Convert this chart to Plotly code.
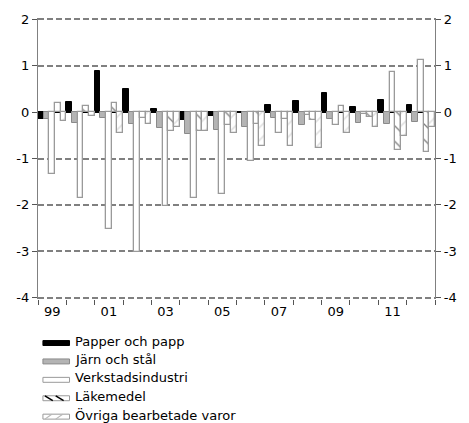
import plotly.graph_objects as go

# Årsdata 1999-2012
years = list(range(1999, 2013))
label_years = [1999, 2001, 2003, 2005, 2007, 2009, 2011]
year_labels = ["99", "01", "03", "05", "07", "09", "11"]
y_ticks = [-4, -3, -2, -1, 0, 1, 2]

papper = [-0.15, 0.22, 0.89, 0.50, 0.06, -0.17, -0.09, 0.0, 0.15, 0.25, 0.41, 0.10, 0.27, 0.16]
jarn = [-0.15, -0.23, -0.13, -0.26, -0.35, -0.47, -0.38, -0.31, -0.13, -0.28, -0.14, -0.24, -0.26, -0.21]
verkstad = [-1.33, -1.86, -2.53, -3.02, -2.03, -1.86, -1.77, -1.05, -0.44, -0.07, -0.28, -0.03, 0.87, 1.12]
lakemedel = [0.20, 0.13, 0.20, -0.12, -0.41, -0.41, -0.28, -0.26, -0.14, -0.16, 0.13, -0.10, -0.82, -0.87]
ovriga = [-0.20, -0.08, -0.44, -0.26, -0.33, -0.41, -0.46, -0.72, -0.72, -0.78, -0.45, -0.33, -0.52, -0.33]

W, H = 469, 423
L, R, T, B = 38, 28, 15, 124
PAD = 0.03  # keeps the grid lines at 2 and -4 from being clipped
FONT = "DejaVu Sans"
OUTLINE = "#9a9a9a"


def px_x(x):
    return (x - L) / (W - L - R)


def px_y(y):
    return (H - B - y) / (H - T - B)


series = [
    ("Papper och papp", papper,
     dict(color="black", line=dict(color="black", width=1))),
    ("Järn och stål", jarn,
     dict(color="#b4b4b4", line=dict(color="#8a8a8a", width=1))),
    ("Verkstadsindustri", verkstad,
     dict(color="white", line=dict(color=OUTLINE, width=1.3))),
    ("Läkemedel", lakemedel,
     dict(color="white", line=dict(color=OUTLINE, width=1.3),
          pattern=dict(shape="\\", fgcolor="black", bgcolor="white", size=11, solidity=0.12))),
    ("Övriga bearbetade varor", ovriga,
     dict(color="white", line=dict(color=OUTLINE, width=1.3),
          pattern=dict(shape="/", fgcolor="#c4c4c4", bgcolor="white", size=9, solidity=0.18))),
]

fig = go.Figure()
for name, vals, marker in series:
    fig.add_trace(go.Bar(x=years, y=vals, name=name, marker=marker, showlegend=False))

# dummy trace so the right-hand axis is drawn
fig.add_trace(go.Scatter(x=[None], y=[None], yaxis="y2", showlegend=False, hoverinfo="skip"))

yax = dict(
    range=[-4 - PAD, 2 + PAD], tickvals=y_ticks, ticktext=[str(v) for v in y_ticks],
    ticks="outside", ticklen=5, tickcolor="#555555",
    showline=True, linecolor="#808080", linewidth=1.3,
    tickfont=dict(size=13, color="black", family=FONT),
)

fig.update_layout(
    width=W, height=H,
    margin=dict(l=L, r=R, t=T, b=B),
    paper_bgcolor="white", plot_bgcolor="white",
    barmode="group", bargap=0, bargroupgap=0,
    font=dict(family=FONT, size=13, color="black"),
    xaxis=dict(
        range=[1998.5, 2012.5], tickvals=label_years, ticktext=year_labels,
        ticks="", showgrid=False, zeroline=False, showline=False,
        ticklabelstandoff=3,
        minor=dict(tick0=1998.5, dtick=1, ticks="outside", ticklen=5,
                   tickcolor="#555555", showgrid=False),
        tickfont=dict(size=13, color="black", family=FONT),
    ),
    yaxis=dict(**yax, showgrid=True, gridcolor="#808080", griddash="6px,3px", gridwidth=1.5,
               zeroline=True, zerolinecolor="black", zerolinewidth=1.6),
    yaxis2=dict(**yax, overlaying="y", side="right", anchor="x",
                showgrid=False, zeroline=False),
)

# legend drawn by hand: wide swatches like the original
swatches = [
    dict(fillcolor="black", line=dict(color="black", width=1)),
    dict(fillcolor="#b4b4b4", line=dict(color="#8a8a8a", width=1)),
    dict(fillcolor="white", line=dict(color=OUTLINE, width=1)),
    dict(fillcolor="white", line=dict(color=OUTLINE, width=1)),
    dict(fillcolor="white", line=dict(color=OUTLINE, width=1)),
]
x0, x1 = 43, 70
for i, ((name, _, _), sw) in enumerate(zip(series, swatches)):
    top = 341 + 18.6 * i
    bot = top + 5
    fig.add_shape(type="rect", xref="paper", yref="paper",
                  x0=px_x(x0), x1=px_x(x1), y0=px_y(bot), y1=px_y(top), **sw)
    if i == 3:
        for sx in (45, 56):
            fig.add_shape(type="line", xref="paper", yref="paper",
                          x0=px_x(sx), y0=px_y(top), x1=px_x(sx + 8), y1=px_y(bot),
                          line=dict(color="black", width=1.5))
    if i == 4:
        for sx in (45, 56):
            fig.add_shape(type="line", xref="paper", yref="paper",
                          x0=px_x(sx), y0=px_y(bot), x1=px_x(sx + 7), y1=px_y(top),
                          line=dict(color="#b8b8b8", width=1.2))
    fig.add_annotation(text=name, xref="paper", yref="paper",
                       x=px_x(74), y=px_y(341.5 + 18.6 * i),
                       xanchor="left", yanchor="middle", showarrow=False,
                       font=dict(size=13, color="black", family=FONT))

fig.write_html("out.html", config={"displayModeBar": False},
               post_script="document.body.style.margin='0';")
